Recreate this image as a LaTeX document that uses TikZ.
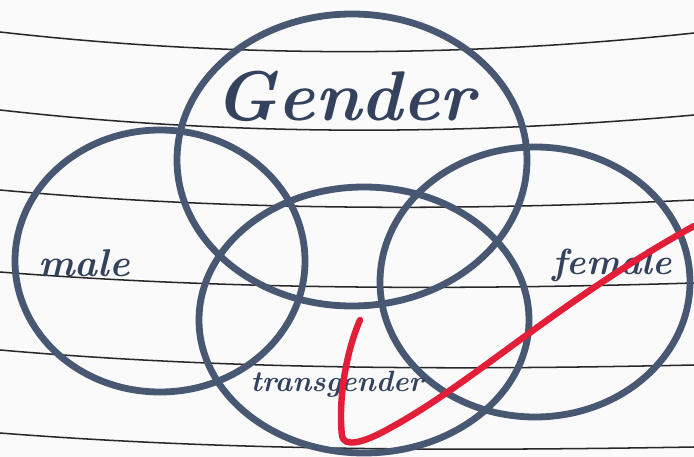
\documentclass[tikz,border=0pt]{standalone}
\usepackage{xcolor}
\usepackage{tikz}
\usetikzlibrary{positioning}

\definecolor{ink}{RGB}{72,88,114}
\definecolor{inktext}{RGB}{52,66,94}
\definecolor{rule}{RGB}{40,40,44}
\definecolor{marker}{RGB}{226,30,56}
\definecolor{paper}{RGB}{250,250,250}

\begin{document}
\begin{tikzpicture}[
  x=0.03cm, y=-0.03cm,
  paperline/.style={draw=rule, line width=1.3pt},
  set/.style={draw=ink, line width=5.8pt},
  label/.style={text=inktext, inner sep=0pt, font=\itshape},
  tick/.style={draw=marker, line width=5.5pt, line cap=round, line join=round}]

\fill[paper] (0,0) rectangle (694,457);
\useasboundingbox (0,0) rectangle (694,457);

% ruled paper
\draw[paperline] (0,32) .. controls (230,58) and (460,58) .. (694,33);
\draw[paperline] (0,110) .. controls (230,136) and (460,136) .. (694,115);
\draw[paperline] (0,190) .. controls (230,211) and (460,211) .. (694,200);
\draw[paperline] (0,272) .. controls (230,290) and (460,290) .. (694,283);
\draw[paperline] (0,350) .. controls (230,370) and (460,370) .. (694,365);
\draw[paperline] (0,433) .. controls (230,451) and (460,451) .. (694,447);

% the four sets
\draw[set] (352,160) ellipse [x radius=175, y radius=146];
\draw[set] (160,261) ellipse [x radius=145, y radius=131];
\draw[set] (364,320) ellipse [x radius=165, y radius=133];
\draw[set] (535,282) ellipse [x radius=155, y radius=135];

% set names
\node[label, font=\bfseries\itshape\fontsize{60}{64}\selectfont] (gender) at (345,96) {Gender};
\node[label, font=\bfseries\itshape\fontsize{33}{36}\selectfont] (male) at (84,263) {male};
\node[label, font=\bfseries\itshape\fontsize{31}{34}\selectfont] (female) at (612,265) {female};
\node[label, font=\bfseries\itshape\fontsize{25}{28}\selectfont] (trans) at (337,384) {transgender};

% red tick
\draw[tick] (360,320) .. controls (346,352) and (338,400) .. (342,436)
  .. controls (344,447) and (362,444) .. (390,428)
  .. controls (470,385) and (560,300) .. (694,226);
\end{tikzpicture}
\end{document}
